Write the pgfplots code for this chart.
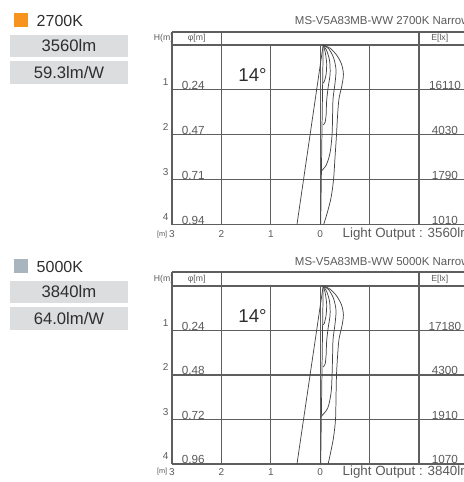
\documentclass[border=0pt]{standalone}
\usepackage{pgfplots}
\pgfplotsset{compat=1.18}
\usepackage{fontspec}
\setmainfont{Liberation Sans}
\definecolor{orng}{HTML}{F7941D}
\definecolor{bluegray}{HTML}{A9B5BE}
\definecolor{boxgray}{HTML}{DCDDDF}
\definecolor{txt}{HTML}{2E2E2E}
\definecolor{gtxt}{HTML}{5A5A5A}
\definecolor{gridc}{HTML}{5E5E5E}
\definecolor{curvec}{HTML}{444444}
\newcommand\fs[1]{\fontsize{#1}{#1}\selectfont}
\pgfplotsset{
  panel/.style={scale only axis, width=185.25pt, xmin=-3, xmax=2, ymin=0, ymax=4,
    y dir=reverse, axis lines=none, clip=false, anchor=south west},
  cv/.style={smooth, color=curvec, line width=0.55pt, mark=none},
}
\tikzset{
  gl/.style={gridc, line width=0.8pt},
  rn/.style={gtxt, font=\fs{7.5}, anchor=base},
  pv/.style={gtxt, font=\fs{8.8}, anchor=base},
  hd/.style={gtxt, font=\fs{6.5}},
}
\begin{document}
\begin{tikzpicture}[x=0.75pt, y=0.75pt]
\useasboundingbox (0,0) rectangle (464,482);
\clip (0,0) rectangle (464,482);
% ---------- left labels, top ----------
\fill[orng] (14,455) rectangle (28,469);
\node[txt, anchor=west, font=\fs{12}] at (32,461.5) {2700K};
\fill[boxgray] (10,425) rectangle (128,447);
\node[txt, font=\fs{12.5}] at (69,436) {3560lm};
\fill[boxgray] (10,398) rectangle (128,421);
\node[txt, font=\fs{12.5}] at (69,409.5) {59.3lm/W};
% ---------- left labels, bottom ----------
\fill[bluegray] (14,209) rectangle (28,223);
\node[txt, anchor=west, font=\fs{12}] at (32,215.5) {5000K};
\fill[boxgray] (10,179) rectangle (128,201);
\node[txt, font=\fs{12.5}] at (69,190) {3840lm};
\fill[boxgray] (10,152) rectangle (128,175);
\node[txt, font=\fs{12.5}] at (69,163.5) {64.0lm/W};

% ================= TOP PANEL =================
\begin{axis}[panel, at={(129pt,193.125pt)}, height=134.6pt]
\draw[gl] (-3,-0.29) -- (3.3,-0.29);
\draw[gridc, line width=1.5pt] (-3,0) -- (3.3,0);
\draw[gl] (-3,1) -- (3.3,1);
\draw[gl] (-3,2) -- (3.3,2);
\draw[gl] (-3,3) -- (3.3,3);
\draw[gl] (-3,4) -- (3.3,4);
\draw[gl] (-3,-0.29) -- (-3,4);
\draw[gl] (-2,-0.29) -- (-2,4);
\draw[gl] (2,-0.29) -- (2,4);
\draw[gl] (-1,0) -- (-1,4);
\draw[gl] (0,0) -- (0,4);
\draw[gl] (1,0) -- (1,4);
% cone
\addplot[color=curvec, line width=0.55pt] coordinates {(0.06,0) (-0.47,4)};
\addplot[color=curvec, line width=0.55pt] coordinates {(0.06,0) (0.01,4)};
% isolux curves
\addplot[cv] coordinates {(0.06,0) (0.2,0.07) (0.33,0.22) (0.43,0.42) (0.47,0.65) (0.44,0.9) (0.38,1.2) (0.35,1.6) (0.33,2) (0.3,2.5) (0.27,3) (0.22,3.4) (0.14,3.75) (0.07,4)};
\addplot[cv] coordinates {(0.06,0) (0.17,0.08) (0.27,0.28) (0.32,0.55) (0.3,0.85) (0.26,1.2) (0.25,1.6) (0.24,2) (0.2,2.4) (0.12,2.68) (0.01,2.82)};
\addplot[cv] coordinates {(0.06,0) (0.13,0.12) (0.19,0.35) (0.2,0.65) (0.16,0.95) (0.13,1.25) (0.12,1.55) (0.1,1.72) (0.06,1.78)};
\addplot[cv] coordinates {(0.06,0) (0.1,0.15) (0.13,0.4) (0.12,0.65) (0.08,0.82) (0.05,0.85)};
% texts
\node[gtxt, anchor=base west, font=\fs{8.6}] at (-0.606,-0.45) {MS-V5A83MB-WW 2700K Narrow};
\node[hd] at (-3.17,-0.15) {H(m)};
\node[hd] at (-2.5,-0.15) {φ[m]};
\node[hd] at (2.42,-0.15) {E[lx]};
\node[rn] at (-3.13,0.9) {1};
\node[rn] at (-3.13,1.9) {2};
\node[rn] at (-3.13,2.9) {3};
\node[rn] at (-3.13,3.9) {4};
\node[pv] at (-2.57,0.99) {0.24};
\node[pv] at (-2.57,1.99) {0.47};
\node[pv] at (-2.57,2.99) {0.71};
\node[pv] at (-2.57,3.99) {0.94};
\node[pv] at (2.525,0.99) {16110};
\node[pv] at (2.525,1.99) {4030};
\node[pv] at (2.525,2.99) {1790};
\node[pv] at (2.525,3.99) {1010};
\node[txt, font=\fs{14}] at (-1.37,0.67) {14°};
\node[gtxt, font=\fs{5.5}] at (-3.2,4.22) {[m]};
\node[gtxt, font=\fs{7.5}] at (-3,4.22) {3};
\node[gtxt, font=\fs{7.5}] at (-2,4.22) {2};
\node[gtxt, font=\fs{7.5}] at (-1,4.22) {1};
\node[gtxt, font=\fs{7.5}] at (0,4.22) {0};
\node[gtxt, anchor=west, font=\fs{10}] at (0.36,4.22) {Light Output : 3560lm};
\end{axis}

% ================= BOTTOM PANEL =================
\begin{axis}[panel, at={(129pt,13.5pt)}, height=133.5pt]
\draw[gl] (-3,-0.315) -- (3.3,-0.315);
\draw[gridc, line width=1.5pt] (-3,0) -- (3.3,0);
\draw[gl] (-3,1) -- (3.3,1);
\draw[gl] (-3,2) -- (3.3,2);
\draw[gl] (-3,3) -- (3.3,3);
\draw[gl] (-3,4) -- (3.3,4);
\draw[gl] (-3,-0.315) -- (-3,4);
\draw[gl] (-2,-0.315) -- (-2,4);
\draw[gl] (2,-0.315) -- (2,4);
\draw[gl] (-1,0) -- (-1,4);
\draw[gl] (0,0) -- (0,4);
\draw[gl] (1,0) -- (1,4);
% cone
\addplot[color=curvec, line width=0.55pt] coordinates {(0.06,0) (-0.47,4)};
\addplot[color=curvec, line width=0.55pt] coordinates {(0.06,0) (0.01,4)};
% isolux curves
\addplot[cv] coordinates {(0.06,0) (0.2,0.07) (0.33,0.22) (0.43,0.42) (0.47,0.65) (0.44,0.9) (0.38,1.2) (0.35,1.6) (0.33,2) (0.32,2.5) (0.31,3) (0.27,3.4) (0.21,3.75) (0.16,4)};
\addplot[cv] coordinates {(0.06,0) (0.17,0.08) (0.27,0.28) (0.32,0.55) (0.3,0.85) (0.26,1.2) (0.25,1.6) (0.24,2) (0.22,2.4) (0.15,2.75) (0.01,2.94)};
\addplot[cv] coordinates {(0.06,0) (0.13,0.12) (0.19,0.35) (0.2,0.65) (0.16,0.95) (0.13,1.25) (0.12,1.55) (0.1,1.75) (0.06,1.82)};
\addplot[cv] coordinates {(0.06,0) (0.1,0.15) (0.13,0.4) (0.12,0.65) (0.08,0.85) (0.05,0.88)};
% texts
\node[gtxt, anchor=base west, font=\fs{8.6}] at (-0.606,-0.47) {MS-V5A83MB-WW 5000K Narrow};
\node[hd] at (-3.17,-0.16) {H(m)};
\node[hd] at (-2.5,-0.16) {φ[m]};
\node[hd] at (2.42,-0.16) {E[lx]};
\node[rn] at (-3.13,0.9) {1};
\node[rn] at (-3.13,1.9) {2};
\node[rn] at (-3.13,2.9) {3};
\node[rn] at (-3.13,3.9) {4};
\node[pv] at (-2.57,0.99) {0.24};
\node[pv] at (-2.57,1.99) {0.48};
\node[pv] at (-2.57,2.99) {0.72};
\node[pv] at (-2.57,3.99) {0.96};
\node[pv] at (2.525,0.99) {17180};
\node[pv] at (2.525,1.99) {4300};
\node[pv] at (2.525,2.99) {1910};
\node[pv] at (2.525,3.99) {1070};
\node[txt, font=\fs{14}] at (-1.37,0.67) {14°};
\node[gtxt, font=\fs{5.5}] at (-3.2,4.18) {[m]};
\node[gtxt, font=\fs{7.5}] at (-3,4.18) {3};
\node[gtxt, font=\fs{7.5}] at (-2,4.18) {2};
\node[gtxt, font=\fs{7.5}] at (-1,4.18) {1};
\node[gtxt, font=\fs{7.5}] at (0,4.18) {0};
\node[gtxt, anchor=west, font=\fs{10}] at (0.36,4.18) {Light Output : 3840lm};
\end{axis}
\end{tikzpicture}
\end{document}
